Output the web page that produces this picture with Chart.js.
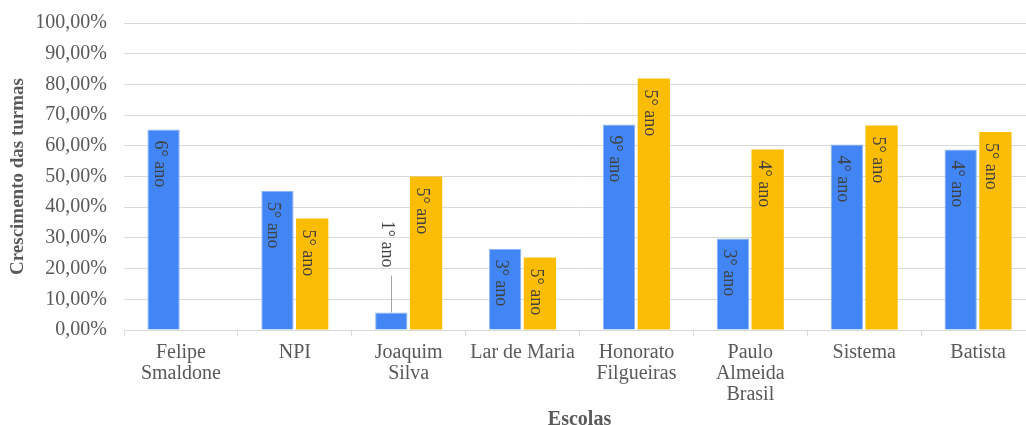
<!DOCTYPE html>
<html>
<head>
<meta charset="utf-8">
<script src="https://cdn.jsdelivr.net/npm/chart.js@4/dist/chart.umd.min.js"></script>
<style>
  html, body { margin: 0; padding: 0; background: #fff; overflow: hidden; }
  #wrap { width: 1026px; height: 425px; overflow: hidden; position: relative; }
  canvas { display: block; }
</style>
</head>
<body>
<div id="wrap"><canvas id="c" width="1040" height="425"></canvas></div>
<script>
const categories = [['Felipe','Smaldone'], 'NPI', ['Joaquim','Silva'], 'Lar de Maria', ['Honorato','Filgueiras'], ['Paulo','Almeida','Brasil'], 'Sistema', 'Batista'];
const seriesA = [65.3, 45.3, 5.7, 26.5, 66.9, 29.8, 60.4, 58.8];
const seriesB = [null, 36.3, 50.0, 23.6, 81.9, 58.8, 66.6, 64.5];
const labelsA = ['6° ano','5° ano','1° ano','3° ano','9° ano','3° ano','4° ano','4° ano'];
const labelsB = [null,'5° ano','5° ano','5° ano','5° ano','4° ano','5° ano','5° ano'];
const yTicks = [0,10,20,30,40,50,60,70,80,90,100];

const GRAY = '#595959';
const GRID = '#d9d9d9';
const SERIF = '"Liberation Serif", "Times New Roman", serif';

const barLabels = {
  id: 'barLabels',
  afterDatasetsDraw(chart) {
    const ctx = chart.ctx;
    const sets = [labelsA, labelsB];
    ctx.save();
    ctx.font = '18px ' + SERIF;
    ctx.fillStyle = '#404040';
    ctx.textAlign = 'left';
    ctx.textBaseline = 'alphabetic';
    chart.data.datasets.forEach((ds, di) => {
      const meta = chart.getDatasetMeta(di);
      meta.data.forEach((bar, i) => {
        const txt = sets[di][i];
        if (!txt || ds.data[i] == null) return;
        const w = ctx.measureText(txt).width;
        const h = bar.base - bar.y;
        let start;
        if (h < w + 20) {
          const end = bar.y - 45;
          start = end - w;
          ctx.save();
          ctx.strokeStyle = '#a6a6a6';
          ctx.lineWidth = 1;
          ctx.beginPath();
          ctx.moveTo(Math.round(bar.x) + 0.5, end + 8);
          ctx.lineTo(Math.round(bar.x) + 0.5, bar.y);
          ctx.stroke();
          ctx.restore();
        } else {
          start = bar.y + 11;
        }
        ctx.save();
        ctx.translate(bar.x - 9, start);
        ctx.rotate(Math.PI / 2);
        ctx.fillText(txt, 0, 0);
        ctx.restore();
      });
    });
    ctx.restore();
  }
};

new Chart(document.getElementById('c'), {
  type: 'bar',
  data: {
    labels: categories,
    datasets: [
      { data: seriesA, backgroundColor: '#4285F4', borderColor: '#8AB4F8', borderWidth: 1, categoryPercentage: 0.61, barPercentage: 0.93 },
      { data: seriesB, backgroundColor: '#FBBC04', borderColor: '#FBBC04', borderWidth: 0, categoryPercentage: 0.61, barPercentage: 0.93 }
    ]
  },
  options: {
    responsive: false,
    animation: false,
    layout: { padding: { left: 0, right: 5, top: 23, bottom: 0 } },
    plugins: { legend: { display: false }, tooltip: { enabled: false } },
    scales: {
      x: {
        grid: { display: true, drawOnChartArea: false, offset: true, tickLength: 6, color: GRID, lineWidth: 1 },
        border: { display: true, color: GRID, width: 1 },
        ticks: { color: GRAY, font: { family: SERIF, size: 20, lineHeight: 1.05 }, padding: 6, maxRotation: 0, autoSkip: false },
        title: { display: true, text: 'Escolas', color: GRAY, font: { family: SERIF, size: 20, weight: 'bold', lineHeight: 0.5 }, padding: { top: 0, bottom: 0 } },
        afterFit(s) { s.height = 95; s.paddingLeft = 0; s.paddingRight = 0; }
      },
      y: {
        min: 0, max: 100,
        afterBuildTicks(s) { s.ticks = yTicks.map(v => ({ value: v })); },
        grid: { color: GRID, lineWidth: 1, drawTicks: false },
        border: { display: false },
        ticks: { color: GRAY, font: { family: SERIF, size: 20 }, padding: 17,
                 callback: v => v.toFixed(2).replace('.', ',') + '%' },
        title: { display: true, text: 'Crescimento das turmas', color: GRAY, font: { family: SERIF, size: 19, weight: 'bold' }, padding: { top: 7, bottom: 4 } },
        afterFit(s) { s.width = 124; s.paddingTop = 0; s.paddingBottom = 0; }
      }
    }
  },
  plugins: [barLabels]
});
</script>
</body>
</html>
